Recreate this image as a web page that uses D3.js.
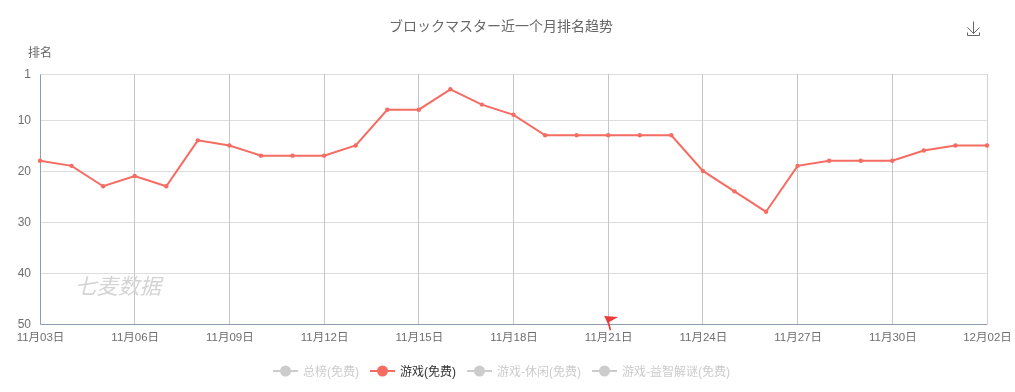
<!DOCTYPE html>
<meta charset="utf-8">
<style>
  body { margin: 0; background: #fff; }
  svg { will-change: transform; }
  text { font-family: "Liberation Sans", "Noto Sans CJK SC", sans-serif; }
</style>
<script src="https://d3js.org/d3.v7.min.js"></script>
<div id="chart"></div>
<script>
  // one tick every 3 points, the picture has 3 steps between 11/30 and 12/02
  var dates = ["11月03日","11月04日","11月05日","11月06日","11月07日","11月08日","11月09日","11月10日",
    "11月11日","11月12日","11月13日","11月14日","11月15日","11月16日","11月17日","11月18日","11月19日",
    "11月20日","11月21日","11月22日","11月23日","11月24日","11月25日","11月26日","11月27日","11月28日",
    "11月29日","11月30日","12月01日","12月01日","12月02日"];
  var ranks = [18,19,23,21,23,14,15,17,17,17,15,8,8,4,7,9,13,13,13,13,13,20,24,28,19,18,18,18,16,15,15];
  var rankTicks = [1,10,20,30,40,50];
  var legendNames = ["总榜(免费)","游戏(免费)","游戏-休闲(免费)","游戏-益智解谜(免费)"];
  var activeLegend = "游戏(免费)";
  var flagDate = "11月21日";

  var red = "#f56c62";
  var width = 1015, height = 392;
  var margin = {top: 74, right: 28, bottom: 68, left: 40};

  var svg = d3.select("#chart").append("svg")
      .attr("width", width)
      .attr("height", height)
      .style("display", "block");

  var x = d3.scalePoint()
      .domain(d3.range(dates.length))
      .range([margin.left, width - margin.right]);
  var y = d3.scaleLinear()
      .domain([1, 50])
      .range([margin.top, height - margin.bottom]);

  var tickIdx = d3.range(0, dates.length, 3);

  // grid
  svg.append("g").selectAll("line").data(rankTicks.slice(0, -1)).enter().append("line")
      .attr("x1", margin.left).attr("x2", width - margin.right)
      .attr("y1", function(d) { return Math.round(y(d)) + 0.5; })
      .attr("y2", function(d) { return Math.round(y(d)) + 0.5; })
      .attr("stroke", "#dedede");
  svg.append("g").selectAll("line").data(tickIdx.slice(1)).enter().append("line")
      .attr("x1", function(d) { return Math.floor(x(d)) + 0.5; })
      .attr("x2", function(d) { return Math.floor(x(d)) + 0.5; })
      .attr("y1", margin.top).attr("y2", height - margin.bottom)
      .attr("stroke", function(d) { return d === dates.length - 1 ? "#d2d2d2" : "#c4c6ca"; });

  // axes
  var xAxis = svg.append("g")
      .attr("transform", "translate(0," + (height - margin.bottom) + ")")
      .call(d3.axisBottom(x).tickValues(tickIdx).tickSize(0).tickPadding(9)
        .tickFormat(function(i) { return dates[i]; }));
  var yAxis = svg.append("g")
      .attr("transform", "translate(" + margin.left + ",0)")
      .call(d3.axisLeft(y).tickValues(rankTicks).tickSize(0).tickPadding(9));
  xAxis.select(".domain").attr("stroke", "#8f9db0");
  yAxis.select(".domain").attr("stroke", "#8f9db0");
  svg.selectAll(".tick text").style("font-size", "12px").attr("fill", "#6e6e6e");
  xAxis.selectAll(".tick text").style("font-size", "11.5px");

  svg.append("text").attr("x", 28).attr("y", 57).text("排名")
      .style("font-size", "12px").attr("fill", "#666");

  svg.append("text").attr("x", 501).attr("y", 31).attr("text-anchor", "middle")
      .text("ブロックマスター近一个月排名趋势")
      .style("font-size", "14px").attr("fill", "#666");

  // watermark
  svg.append("text").attr("x", 75).attr("y", 294).text("七麦数据")
      .style("font-size", "21.5px").style("font-style", "italic").attr("fill", "#d4d4d4");

  // series
  var line = d3.line()
      .x(function(d, i) { return x(i); })
      .y(function(d) { return y(d); });
  svg.append("path").datum(ranks)
      .attr("d", line)
      .attr("fill", "none")
      .attr("stroke", red)
      .attr("stroke-width", 2);
  svg.append("g").selectAll("circle").data(ranks).enter().append("circle")
      .attr("cx", function(d, i) { return x(i); })
      .attr("cy", function(d) { return y(d); })
      .attr("r", 2.2)
      .attr("fill", red);

  // flag on the bottom axis
  svg.append("path")
      .attr("transform", "translate(" + x(dates.indexOf(flagDate)) + "," + y(50) + ")")
      .attr("d", "M1.5,6.5 L-0.5,-0.5 L-4,-8 L10,-7 L1,-2 L3,6 Z")
      .attr("fill", "#ec3a3a");

  // download icon
  svg.append("path")
      .attr("d", "M973.5,21.5 V33.5 M967.5,27.5 L973.5,33.5 L979.5,27.5 M967.5,32.5 V35.5 H979.5 V32.5")
      .attr("fill", "none")
      .attr("stroke", "#666")
      .attr("stroke-width", 1);

  // legend
  var legendY = 371, legendX = 273;
  legendNames.forEach(function(name) {
    var on = name === activeLegend;
    var g = svg.append("g").attr("transform", "translate(" + legendX + "," + legendY + ")");
    g.append("line").attr("x1", 0).attr("x2", 25)
        .attr("stroke", on ? red : "#ccc").attr("stroke-width", 2);
    g.append("circle").attr("cx", 12.5).attr("r", 5.5).attr("fill", on ? red : "#ccc");
    var t = g.append("text").attr("x", 30).attr("y", 4.5).text(name)
        .style("font-size", "12px").attr("fill", on ? "#333" : "#ccc");
    legendX += 30 + t.node().getComputedTextLength() + 11;
  });
</script>
